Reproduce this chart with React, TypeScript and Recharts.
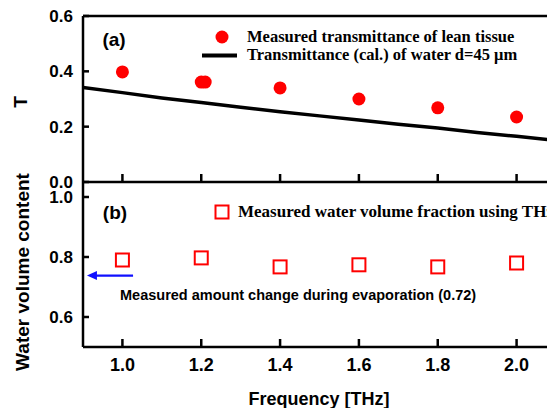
import React from 'react';
import { ComposedChart, Line, Scatter, XAxis, YAxis, ReferenceLine } from 'recharts';

// ---- data ----
const freqTicks = [1.0, 1.2, 1.4, 1.6, 1.8, 2.0];
const tTicks = [0, 0.2, 0.4, 0.6];
const waterTicks = [0.6, 0.8, 1.0];

const measuredFreq = [1.0, 1.2, 1.21, 1.4, 1.6, 1.8, 2.0];
const measuredT = [0.398, 0.361, 0.361, 0.34, 0.3, 0.268, 0.235];

const calcFreq = [0.9, 1.0, 1.1, 1.2, 1.3, 1.4, 1.5, 1.6, 1.7, 1.8, 1.9, 2.0, 2.1];
const calcT = [0.342, 0.323, 0.304, 0.287, 0.27, 0.254, 0.239, 0.224, 0.209, 0.195, 0.179, 0.165, 0.15];

const waterFreq = [1.0, 1.2, 1.4, 1.6, 1.8, 2.0];
const waterFraction = [0.79, 0.797, 0.767, 0.774, 0.767, 0.78];

const arrowLevel = 0.738;
const arrowFreq = [1.027, 0.91];

const measuredData = measuredFreq.map((f, i) => ({ f, T: measuredT[i] }));
const calcData = calcFreq.map((f, i) => ({ f, T: calcT[i] }));
const waterData = waterFreq.map((f, i) => ({ f, w: waterFraction[i] }));

const SANS = '"Liberation Sans", Arial, sans-serif';
const SERIF = '"Liberation Serif", "Times New Roman", serif';
const RED = '#ff0000';
const BLUE = '#1010ff';

const axisStyle = { stroke: '#000', strokeWidth: 2.5 };
const tickStyleY = { fill: '#000', fontSize: 17, fontWeight: 'bold', fontFamily: SANS };
const tickStyleX = { fill: '#000', fontSize: 18, fontWeight: 'bold', fontFamily: SANS };

const RedDot = (p: any) => <circle cx={p.cx} cy={p.cy} r={6.5} fill={RED} />;
const RedSquare = (p: any) => (
  <rect x={p.cx - 6.5} y={p.cy - 6.5} width={13} height={13} fill="none" stroke={RED} strokeWidth={2} />
);
const ArrowShape = (p: any) => {
  const { x1, y1, x2, y2 } = p;
  return (
    <g>
      <line x1={x1} y1={y1} x2={x2 + 6} y2={y2} stroke={BLUE} strokeWidth={2.2} />
      <polygon points={`${x2},${y2} ${x2 + 10},${y2 - 4.5} ${x2 + 10},${y2 + 4.5}`} fill={BLUE} />
    </g>
  );
};

export default function App() {
  return (
    <div
      style={{
        position: 'absolute',
        left: 0,
        top: 0,
        width: 547,
        height: 408,
        overflow: 'hidden',
        background: '#fff',
      }}
    >
      {/* Panel (a) */}
      <div style={{ position: 'absolute', left: 0, top: 0 }}>
        <ComposedChart width={556} height={200} margin={{ top: 16, right: 0, bottom: 0, left: 0 }}>
          <XAxis
            type="number"
            dataKey="f"
            domain={[0.9, 2.1]}
            ticks={freqTicks}
            interval={0}
            allowDataOverflow
            height={18}
            tickSize={-8}
            tickFormatter={() => ''}
            axisLine={axisStyle}
            tickLine={axisStyle}
          />
          <YAxis
            type="number"
            domain={[0, 0.6]}
            ticks={tTicks}
            interval={0}
            width={83}
            tickSize={-6}
            tickMargin={16}
            tickFormatter={(v: number) => v.toFixed(1)}
            axisLine={axisStyle}
            tickLine={axisStyle}
            tick={tickStyleY}
          />
          <ReferenceLine y={0.6} stroke="#000" strokeWidth={2.5} />
          <Line
            data={calcData}
            dataKey="T"
            type="linear"
            stroke="#000"
            strokeWidth={3.5}
            dot={false}
            isAnimationActive={false}
          />
          <Scatter data={measuredData} dataKey="T" shape={RedDot} isAnimationActive={false} />
        </ComposedChart>
      </div>

      {/* Panel (b) */}
      <div style={{ position: 'absolute', left: 0, top: 182 }}>
        <ComposedChart width={556} height={226} margin={{ top: 0, right: 0, bottom: 0, left: 0 }}>
          <XAxis
            type="number"
            dataKey="f"
            domain={[0.9, 2.1]}
            ticks={freqTicks}
            interval={0}
            allowDataOverflow
            height={61}
            tickSize={-8}
            tickMargin={19}
            tickFormatter={(v: number) => v.toFixed(1)}
            axisLine={axisStyle}
            tickLine={axisStyle}
            tick={tickStyleX}
          />
          <YAxis
            type="number"
            domain={[0.5, 1.05]}
            ticks={waterTicks}
            interval={0}
            width={83}
            tickSize={-6}
            tickMargin={16}
            tickFormatter={(v: number) => v.toFixed(1)}
            axisLine={axisStyle}
            tickLine={axisStyle}
            tick={tickStyleY}
          />
          <ReferenceLine
            segment={[
              { x: arrowFreq[0], y: arrowLevel },
              { x: arrowFreq[1], y: arrowLevel },
            ]}
            shape={ArrowShape}
            ifOverflow="visible"
          />
          <Scatter data={waterData} dataKey="w" shape={RedSquare} isAnimationActive={false} />
        </ComposedChart>
      </div>

      {/* Text overlay: panel labels, legends, axis titles, annotation */}
      <svg
        width={547}
        height={408}
        style={{ position: 'absolute', left: 0, top: 0, pointerEvents: 'none' }}
      >
        <text x={114} y={46} textAnchor="middle" fontFamily={SANS} fontWeight="bold" fontSize={19}>
          (a)
        </text>
        <text x={115} y={219} textAnchor="middle" fontFamily={SANS} fontWeight="bold" fontSize={19}>
          (b)
        </text>

        {/* legend (a) */}
        <circle cx={222} cy={37} r={6.5} fill={RED} />
        <text x={247} y={41.5} fontFamily={SERIF} fontWeight="bold" fontSize={16.5}>
          Measured transmittance of lean tissue
        </text>
        <line x1={202} y1={55.5} x2={237} y2={55.5} stroke="#000" strokeWidth={4} />
        <text x={247} y={60} fontFamily={SERIF} fontWeight="bold" fontSize={16.5}>
          Transmittance (cal.) of water d=45 μm
        </text>

        {/* legend (b) */}
        <rect x={215.5} y={205.5} width={13} height={13} fill="none" stroke={RED} strokeWidth={2} />
        <text x={238} y={217} fontFamily={SERIF} fontWeight="bold" fontSize={17}>
          Measured water volume fraction using THz
        </text>

        {/* annotation */}
        <text x={120} y={300} fontFamily={SANS} fontWeight="bold" fontSize={14.5}>
          Measured amount change during evaporation (0.72)
        </text>

        {/* axis titles */}
        <text
          x={27}
          y={102}
          textAnchor="middle"
          transform="rotate(-90 27 102)"
          fontFamily={SANS}
          fontWeight="bold"
          fontSize={19}
        >
          T
        </text>
        <text
          x={29}
          y={272}
          textAnchor="middle"
          transform="rotate(-90 29 272)"
          fontFamily={SANS}
          fontWeight="bold"
          fontSize={19}
        >
          Water volume content
        </text>
        <text x={319} y={405} textAnchor="middle" fontFamily={SANS} fontWeight="bold" fontSize={18}>
          Frequency [THz]
        </text>
      </svg>
    </div>
  );
}
